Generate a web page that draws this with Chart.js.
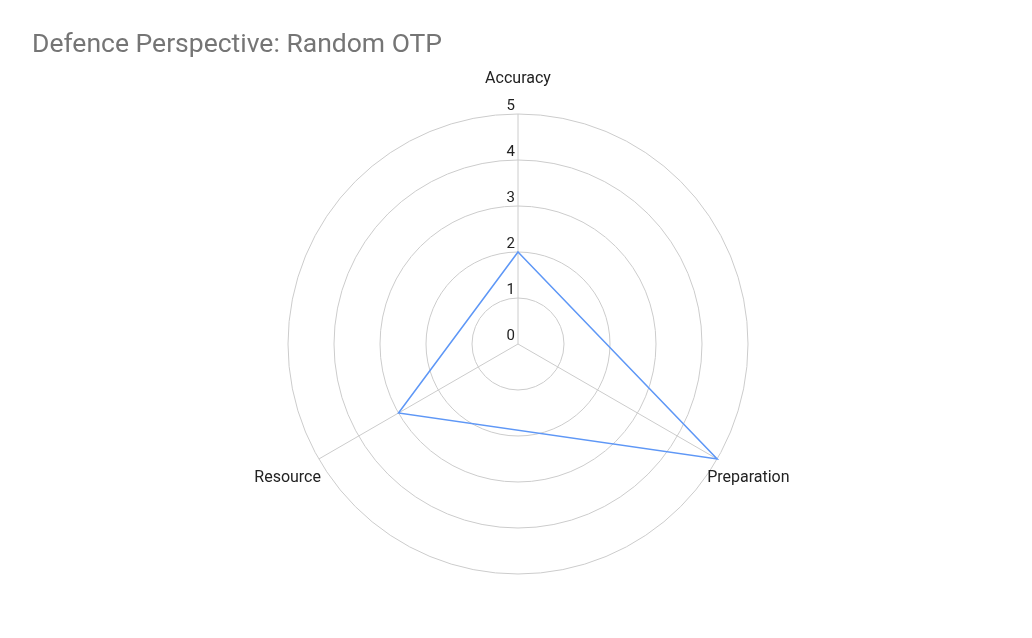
<!DOCTYPE html>
<html>
<head>
<meta charset="utf-8">
<script src="https://cdn.jsdelivr.net/npm/chart.js@4"></script>
<style>
    body { margin: 0; background: #fff; }
    #wrap { width: 1032px; height: 638px; }
</style>
</head>
<body>
<div id="wrap"><canvas id="chartDefence" width="1032" height="638"></canvas></div>
<script>
var categories = ['Accuracy', 'Preparation', 'Resource'];
var randomOtpValues = [2, 5, 3];
var tickValues = [0, 1, 2, 3, 4, 5];

var chartDefence = document.getElementById('chartDefence');

// draws the axis names and tick numbers the way the original does
var radarLabels = {
    id: 'radarLabels',
    afterDraw: function (chart) {
        var scale = chart.scales.r;
        var ctx = chart.ctx;
        ctx.save();
        ctx.fillStyle = '#222222';
        ctx.font = '16px Roboto';
        ctx.textAlign = 'center';
        ctx.textBaseline = 'middle';
        categories.forEach(function (name, i) {
            var pos = scale.getPointPosition(i, scale.drawingArea + 36);
            ctx.fillText(name, pos.x, pos.y + 1);
        });
        ctx.font = '15px Roboto';
        ctx.textAlign = 'right';
        ctx.textBaseline = 'alphabetic';
        tickValues.forEach(function (v) {
            var d = scale.getDistanceFromCenterForValue(v);
            ctx.fillText(String(v), scale.xCenter - 3, scale.yCenter - d - 4);
        });
        ctx.restore();
    }
};

var chartRadar = new Chart(chartDefence, {
    type: 'radar',
    data: {
        labels: categories,
        datasets: [{
            label: 'Random OTP',
            data: randomOtpValues,
            borderColor: '#5e97f6',
            borderWidth: 1.5,
            fill: false,
            pointRadius: 0,
            pointHoverRadius: 0
        }]
    },
    options: {
        responsive: false,
        animation: false,
        layout: {
            padding: { left: 32, right: 28, top: 0, bottom: 63 }
        },
        scales: {
            r: {
                min: 0,
                max: 5,
                ticks: { display: false, stepSize: 1 },
                pointLabels: { display: false },
                grid: { circular: true, color: '#cccccc', lineWidth: 1 },
                angleLines: { color: '#cccccc', lineWidth: 1 }
            }
        },
        plugins: {
            legend: { display: false },
            tooltip: { enabled: false },
            title: {
                display: true,
                text: 'Defence Perspective: Random OTP',
                align: 'start',
                color: '#757575',
                font: { family: 'Roboto', size: 26.5, weight: 'normal' },
                padding: { top: 29, bottom: 53 }
            }
        }
    },
    plugins: [radarLabels]
});
</script>
</body>
</html>
